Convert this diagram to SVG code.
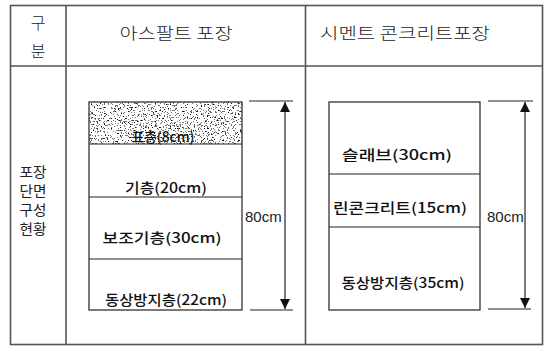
<svg xmlns="http://www.w3.org/2000/svg" width="547" height="346" viewBox="0 0 547 346">
<style>
.grid{stroke:#555;stroke-width:1.6;fill:none}
.box{stroke:#222;stroke-width:1.2;fill:none}
.dim{stroke:#222;stroke-width:1.2;fill:none}
.hd{font-family:"Noto Sans CJK KR","Noto Sans",sans-serif;font-size:16px;font-weight:300;fill:#222}
.rl{font-family:"Noto Sans CJK KR","Noto Sans",sans-serif;font-size:14px;font-weight:400;fill:#222}
.lb{font-family:"Noto Sans CJK KR","Noto Sans",sans-serif;font-size:14px;font-weight:500;fill:#111}
.dm{font-family:"Liberation Sans",Arial,sans-serif;font-size:15px;fill:#222}
</style>
<defs>
<marker id="ah" viewBox="0 0 10 14" refX="10" refY="7" markerWidth="10" markerHeight="14" markerUnits="userSpaceOnUse" orient="auto-start-reverse">
<path d="M0,2 L10,7 L0,12 Z" fill="#111"/>
</marker>
<filter id="speckle" x="0" y="0" width="100%" height="100%">
<feTurbulence type="fractalNoise" baseFrequency="0.7" numOctaves="2" seed="7" result="n"/>
<feColorMatrix in="n" type="matrix" values="0 0 0 0 0  0 0 0 0 0  0 0 0 0 0  1 0 0 0 0"/>
<feComponentTransfer>
<feFuncA type="discrete" tableValues="0 0 0 0 0 0 0.55 0.9 1 1"/>
</feComponentTransfer>
</filter>
</defs>
<rect width="547" height="346" fill="#fff"/>
<g id="table">
<rect class="grid" x="10.5" y="5.5" width="532" height="339"/>
<line class="grid" x1="66" y1="5.5" x2="66" y2="344.5"/>
<line class="grid" x1="305.5" y1="5.5" x2="305.5" y2="344.5"/>
<line class="grid" x1="10.5" y1="66" x2="542.5" y2="66"/>
</g>
<g id="header">
<text class="hd" x="38" y="29" text-anchor="middle">구</text>
<text class="hd" x="38" y="57" text-anchor="middle">분</text>
<text class="hd" x="176" y="39" text-anchor="middle" textLength="113" lengthAdjust="spacingAndGlyphs">아스팔트 포장</text>
<text class="hd" x="405" y="39" text-anchor="middle" textLength="170" lengthAdjust="spacingAndGlyphs">시멘트 콘크리트포장</text>
</g>
<g id="rowlabel">
<text class="rl" x="33" y="177" text-anchor="middle" textLength="27" lengthAdjust="spacingAndGlyphs">포장</text>
<text class="rl" x="33" y="196" text-anchor="middle" textLength="27" lengthAdjust="spacingAndGlyphs">단면</text>
<text class="rl" x="33" y="215" text-anchor="middle" textLength="27" lengthAdjust="spacingAndGlyphs">구성</text>
<text class="rl" x="33" y="234" text-anchor="middle" textLength="27" lengthAdjust="spacingAndGlyphs">현황</text>
</g>
<g id="asphalt">
<rect x="89" y="102" width="153" height="42" fill="#000" filter="url(#speckle)"/>
<rect class="box" x="89" y="102" width="153" height="208"/>
<line class="box" x1="89" y1="144" x2="242" y2="144"/>
<line class="box" x1="89" y1="197" x2="242" y2="197"/>
<line class="box" x1="89" y1="259" x2="242" y2="259"/>
<text class="lb" x="163" y="142" text-anchor="middle" textLength="63" lengthAdjust="spacingAndGlyphs">표층(8cm)</text>
<text class="lb" x="166" y="193" text-anchor="middle" textLength="82" lengthAdjust="spacingAndGlyphs">기층(20cm)</text>
<text class="lb" x="162" y="243" text-anchor="middle" textLength="119" lengthAdjust="spacingAndGlyphs">보조기층(30cm)</text>
<text class="lb" x="166" y="305" text-anchor="middle" textLength="122" lengthAdjust="spacingAndGlyphs">동상방지층(22cm)</text>
</g>
<g id="concrete">
<rect class="box" x="329" y="102" width="151" height="208"/>
<line class="box" x1="329" y1="174" x2="480" y2="174"/>
<line class="box" x1="329" y1="227" x2="480" y2="227"/>
<text class="lb" x="397" y="160" text-anchor="middle" textLength="110" lengthAdjust="spacingAndGlyphs">슬래브(30cm)</text>
<text class="lb" x="400" y="213" text-anchor="middle" textLength="134" lengthAdjust="spacingAndGlyphs">린콘크리트(15cm)</text>
<text class="lb" x="403" y="288" text-anchor="middle" textLength="123" lengthAdjust="spacingAndGlyphs">동상방지층(35cm)</text>
</g>
<g id="connectors">
<line class="dim" x1="249" y1="101" x2="293" y2="101"/>
<line class="dim" x1="250" y1="310" x2="293" y2="310"/>
<line class="dim" x1="285" y1="102" x2="285" y2="309" marker-start="url(#ah)" marker-end="url(#ah)"/>
<line class="dim" x1="488" y1="101" x2="533" y2="101"/>
<line class="dim" x1="488" y1="309" x2="531" y2="309"/>
<line class="dim" x1="525" y1="102" x2="525" y2="308" marker-start="url(#ah)" marker-end="url(#ah)"/>
</g>
<g id="dims">
<text class="dm" x="245" y="222">80cm</text>
<text class="dm" x="487" y="222">80cm</text>
</g>
</svg>
